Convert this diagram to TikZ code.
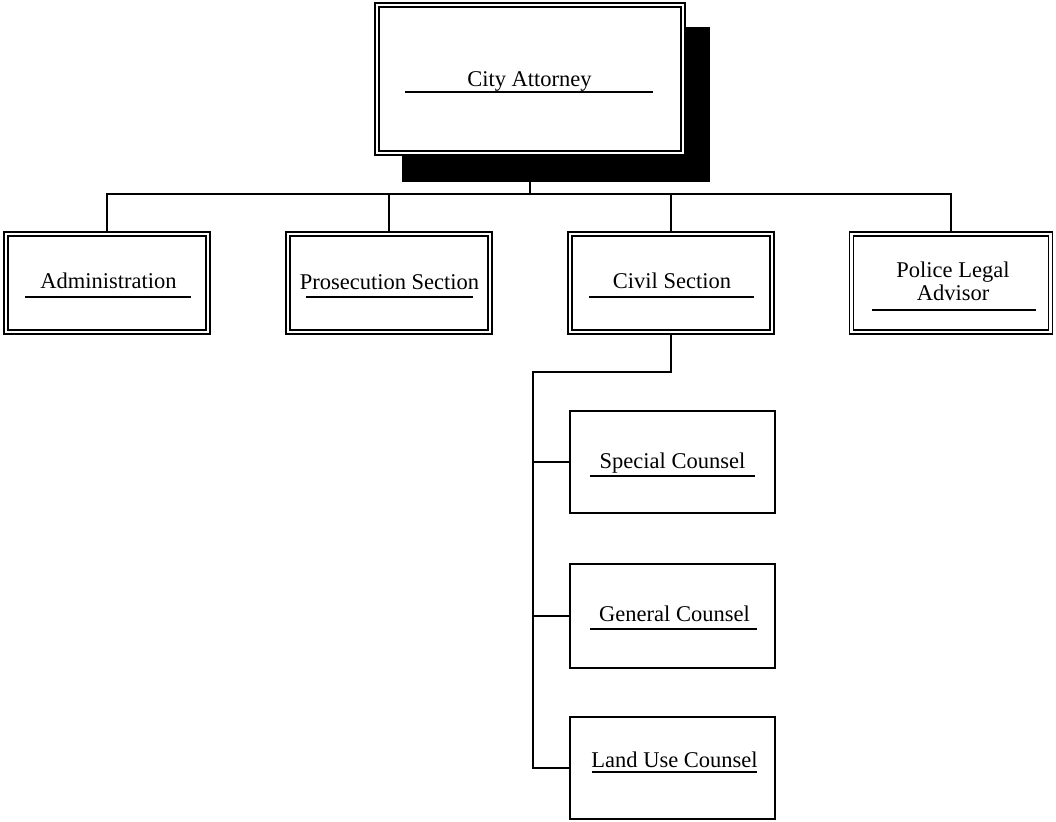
\documentclass[tikz,border=0pt]{standalone}
\usepackage{fontspec}
\setmainfont{Liberation Serif}
\begin{document}
\begin{tikzpicture}[x=1pt,y=-1pt,
  dbox/.style={draw=black, fill=white, double=white, double distance=2.6pt, line width=1.5pt, inner sep=0pt, minimum width=202pt, minimum height=98pt},
  sbox/.style={draw=black, fill=white, line width=2pt, inner sep=0pt, minimum width=205pt},
  shadowbox/.style={fill=black, inner sep=0pt, minimum width=308pt, minimum height=155pt},
  lbl/.style={anchor=base, inner sep=0pt, font=\fontsize{22.5}{23}\selectfont, align=center},
  uline/.style={line width=2pt},
  conn/.style={line width=2pt}]
\useasboundingbox (0,0) rectangle (1056,821);
% top box with shadow
\node[shadowbox] (shadow) at (556,104.5) {};
\node[dbox, minimum width=306pt, minimum height=148pt] (ca) at (530,79) {};
\node[lbl] (tca) at (529.5,87) {City Attorney};
\draw[uline] (405,92) -- (653,92);
% second level
\node[dbox] (adm) at (107,283) {};
\node[dbox] (pro) at (389,283) {};
\node[dbox] (civ) at (671,283) {};
\node[dbox, minimum width=199pt] (pol) at (951,283) {};
\node[lbl] (tadm) at (108.5,288) {Administration};
\draw[uline] (25,297) -- (191,297);
\node[lbl] (tpro) at (389.5,289) {Prosecution Section};
\draw[uline] (306,297) -- (473,297);
\node[lbl] (tciv) at (672,288) {Civil Section};
\draw[uline] (589,297) -- (754,297);
\node[lbl] (tpol) at (953,300) {Police Legal\\Advisor};
\draw[uline] (872,310) -- (1036,310);
% third level
\node[sbox, minimum height=102pt] (spc) at (672.5,462) {};
\node[sbox, minimum height=104pt] (gen) at (672.5,616) {};
\node[sbox, minimum height=102pt] (luc) at (672.5,768) {};
\node[lbl] (tspc) at (672.5,468) {Special Counsel};
\draw[uline] (590,476) -- (755,476);
\node[lbl] (tgen) at (674.5,621) {General Counsel};
\draw[uline] (590,629) -- (757,629);
\node[lbl] (tluc) at (674.5,767) {Land Use Counsel};
\draw[uline] (592,772) -- (757,772);
% connectors
\coordinate (bus) at (0,194);
\coordinate (elbow) at (533,372);
\draw[conn] (ca.center |- shadow.south) -- (ca.center |- bus);
\draw[conn] (adm.north) -- (adm.north |- bus) -- (pol.north |- bus) -- (pol.north);
\draw[conn] (pro.north |- bus) -- (pro.north);
\draw[conn] (civ.north |- bus) -- (civ.north);
\draw[conn] (civ.south) |- (elbow) -- (elbow |- luc.west) -- (luc.west);
\draw[conn] (elbow |- spc.west) -- (spc.west);
\draw[conn] (elbow |- gen.west) -- (gen.west);
\end{tikzpicture}
\end{document}
